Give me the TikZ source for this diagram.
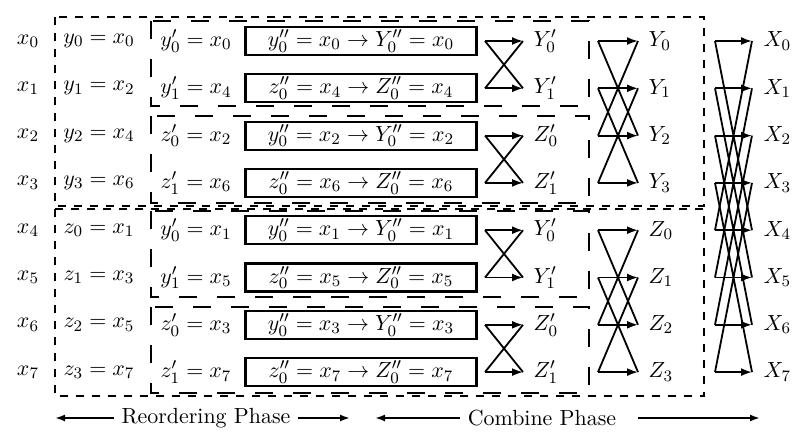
\documentclass[tikz,border=0pt]{standalone}
\usetikzlibrary{arrows.meta}

\begin{document}
\begin{tikzpicture}[x=0.5pt, y=-0.5pt, line width=0.9pt,
  every node/.style = {font=\fontsize{10.95}{13}\selectfont},
  stage/.style = {draw, line width=1.1pt, minimum width=115.5pt, minimum height=14pt, inner sep=0pt},
  halfbox/.style = {dash pattern=on 4pt off 4pt},
  quarterbox/.style = {dash pattern=on 9pt off 10pt},
  flow/.style = {-{Latex[length=5.5pt,width=4pt]}},
  phase/.style = {-{Latex[length=5pt,width=3.5pt]}}]
  \useasboundingbox (0,0) rectangle (811,440);
  \foreach \i in {0,...,7} {
    \node (x\i) at (28,{41+47.3*\i}) {$x_\i$};
    \node (X\i) [anchor=west] at (756,{41+47.3*\i}) {$X_\i$};
    \coordinate (in1-\i) at (485,{41+47.3*\i});
    \coordinate (out1-\i) at (523,{41+47.3*\i});
    \coordinate (in2-\i) at (598,{41+47.3*\i});
    \coordinate (out2-\i) at (638,{41+47.3*\i});
    \coordinate (in3-\i) at (715,{41+47.3*\i});
    \coordinate (out3-\i) at (752,{41+47.3*\i});
  }
  \foreach \i/\a/\b in {0/y_0/x_0, 1/y_1/x_2, 2/y_2/x_4, 3/y_3/x_6,
                        4/z_0/x_1, 5/z_1/x_3, 6/z_2/x_5, 7/z_3/x_7}
    \node (sub\i) at (99,{41+47.3*\i}) {$\a = \b$};
  \foreach \i/\a/\b in {0/y'_0/x_0, 1/y'_1/x_4, 2/z'_0/x_2, 3/z'_1/x_6,
                        4/y'_0/x_1, 5/y'_1/x_5, 6/z'_0/x_3, 7/z'_1/x_7}
    \node (half\i) at (196,{41+47.3*\i}) {$\a = \b$};
  \foreach \i/\l/\u/\v in {0/y/Y/0, 1/z/Z/4, 2/y/Y/2, 3/z/Z/6,
                           4/y/Y/1, 5/z/Z/5, 6/y/Y/3, 7/z/Z/7}
    \node[stage] (dft\i) at (361,{41+47.3*\i}) {$\l''_0 = x_\v \rightarrow \u''_0 = x_\v$};
  \foreach \i/\l in {0/Y'_0, 1/Y'_1, 2/Z'_0, 3/Z'_1, 4/Y'_0, 5/Y'_1, 6/Z'_0, 7/Z'_1}
    \node (pair\i) [anchor=west] at (526,{41+47.3*\i}) {$\l$};
  \foreach \i/\l in {0/Y_0, 1/Y_1, 2/Y_2, 3/Y_3, 4/Z_0, 5/Z_1, 6/Z_2, 7/Z_3}
    \node (quad\i) [anchor=west] at (641,{41+47.3*\i}) {$\l$};

  \foreach \i/\j in {0/1, 2/3, 4/5, 6/7} {
    \draw[flow] (in1-\i) -- (out1-\i);
    \draw[flow] (in1-\j) -- (out1-\j);
    \draw (in1-\i) -- (out1-\j) (in1-\j) -- (out1-\i);
  }
  \foreach \i/\j in {0/2, 1/3, 4/6, 5/7} {
    \draw[flow] (in2-\i) -- (out2-\i);
    \draw[flow] (in2-\j) -- (out2-\j);
    \draw (in2-\i) -- (out2-\j) (in2-\j) -- (out2-\i);
  }
  \foreach \i/\j in {0/4, 1/5, 2/6, 3/7} {
    \draw[flow] (in3-\i) -- (out3-\i);
    \draw[flow] (in3-\j) -- (out3-\j);
    \draw (in3-\i) -- (out3-\j) (in3-\j) -- (out3-\i);
  }

  \draw[halfbox] (55,17) rectangle (704,206);
  \draw[halfbox] (55,209) rectangle (704,396);
  \draw[quarterbox] (151,21) rectangle (589,106);
  \draw[quarterbox] (151,116) rectangle (589,203);
  \draw[quarterbox] (151,211) rectangle (589,297);
  \draw[quarterbox] (151,307) rectangle (589,393);

  \node (reorder) at (206,418) {Reordering Phase};
  \node (combine) at (542,418) {Combine Phase};
  \coordinate (reorderL) at (55,418);
  \coordinate (reorderR) at (350,418);
  \coordinate (combineL) at (375,418);
  \coordinate (combineR) at (760,418);
  \draw[phase] (reorder.west) -- (reorderL);
  \draw[phase] (reorder.east) -- (reorderR);
  \draw[phase] (combine.west) -- (combineL);
  \draw[phase] ([xshift=7pt]combine.east) -- (combineR);
\end{tikzpicture}
\end{document}
